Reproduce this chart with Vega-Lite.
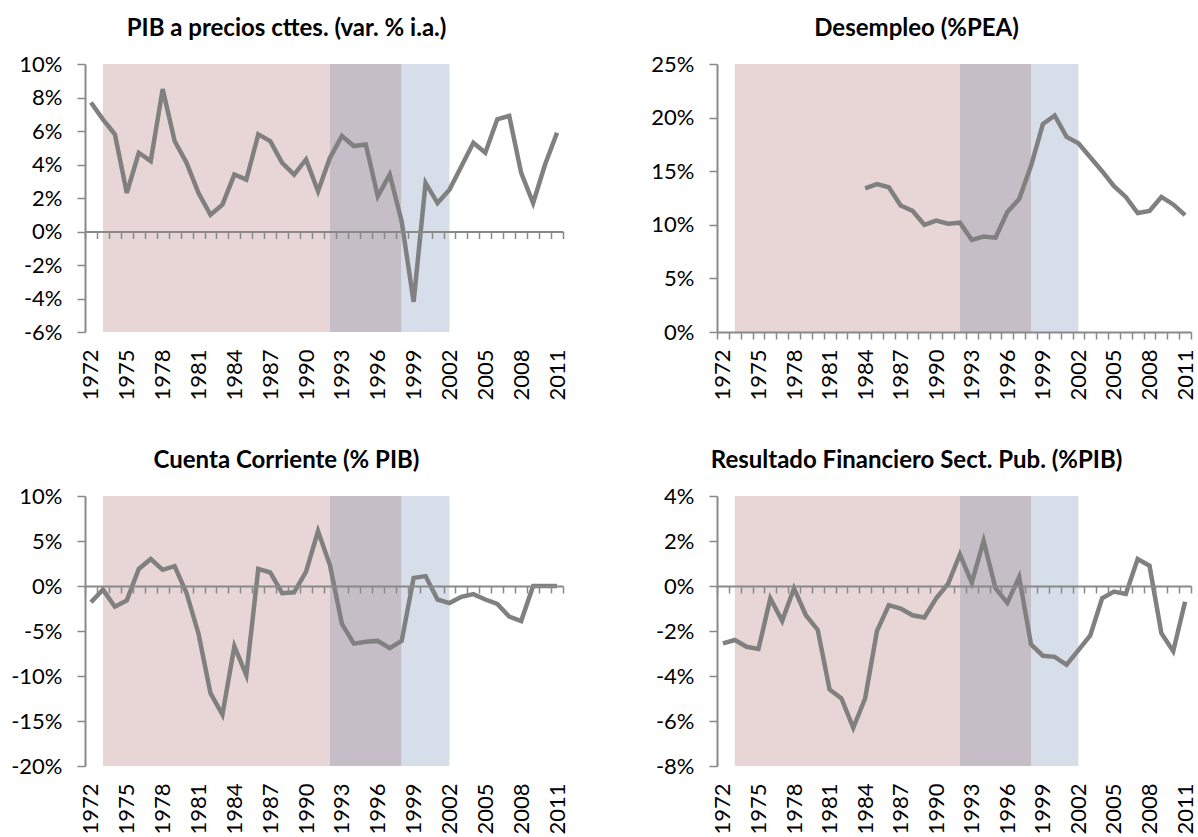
{
  "$schema": "https://vega.github.io/schema/vega-lite/v6.json",
  "padding": {"left": 5, "top": 17, "right": 0, "bottom": 0},
  "background": "white",
  "datasets": {
    "bands": [
      {"start": 1973, "end": 1992, "period": "a"},
      {"start": 1992, "end": 1998, "period": "b"},
      {"start": 1998, "end": 2002, "period": "c"}
    ],
    "pib": [
      {"year": 1972, "value": 7.7}, {"year": 1973, "value": 6.7}, {"year": 1974, "value": 5.8}, {"year": 1975, "value": 2.3},
      {"year": 1976, "value": 4.7}, {"year": 1977, "value": 4.2}, {"year": 1978, "value": 8.5}, {"year": 1979, "value": 5.4},
      {"year": 1980, "value": 4.1}, {"year": 1981, "value": 2.3}, {"year": 1982, "value": 1.0}, {"year": 1983, "value": 1.6},
      {"year": 1984, "value": 3.4}, {"year": 1985, "value": 3.1}, {"year": 1986, "value": 5.8}, {"year": 1987, "value": 5.4},
      {"year": 1988, "value": 4.1}, {"year": 1989, "value": 3.4}, {"year": 1990, "value": 4.3}, {"year": 1991, "value": 2.4},
      {"year": 1992, "value": 4.4}, {"year": 1993, "value": 5.7}, {"year": 1994, "value": 5.1}, {"year": 1995, "value": 5.2},
      {"year": 1996, "value": 2.1}, {"year": 1997, "value": 3.4}, {"year": 1998, "value": 0.6}, {"year": 1999, "value": -4.2},
      {"year": 2000, "value": 2.9}, {"year": 2001, "value": 1.7}, {"year": 2002, "value": 2.5}, {"year": 2003, "value": 3.9},
      {"year": 2004, "value": 5.3}, {"year": 2005, "value": 4.7}, {"year": 2006, "value": 6.7}, {"year": 2007, "value": 6.9},
      {"year": 2008, "value": 3.5}, {"year": 2009, "value": 1.7}, {"year": 2010, "value": 4.0}, {"year": 2011, "value": 5.9}
    ],
    "desempleo": [
      {"year": 1984, "value": 13.4}, {"year": 1985, "value": 13.8}, {"year": 1986, "value": 13.5}, {"year": 1987, "value": 11.8},
      {"year": 1988, "value": 11.3}, {"year": 1989, "value": 10.0}, {"year": 1990, "value": 10.4}, {"year": 1991, "value": 10.1},
      {"year": 1992, "value": 10.2}, {"year": 1993, "value": 8.6}, {"year": 1994, "value": 8.9}, {"year": 1995, "value": 8.8},
      {"year": 1996, "value": 11.2}, {"year": 1997, "value": 12.4}, {"year": 1998, "value": 15.5}, {"year": 1999, "value": 19.4},
      {"year": 2000, "value": 20.2}, {"year": 2001, "value": 18.2}, {"year": 2002, "value": 17.6}, {"year": 2003, "value": 16.3},
      {"year": 2004, "value": 15.0}, {"year": 2005, "value": 13.6}, {"year": 2006, "value": 12.6}, {"year": 2007, "value": 11.1},
      {"year": 2008, "value": 11.3}, {"year": 2009, "value": 12.6}, {"year": 2010, "value": 11.9}, {"year": 2011, "value": 10.9}
    ],
    "cc": [
      {"year": 1972, "value": -1.8}, {"year": 1973, "value": -0.4}, {"year": 1974, "value": -2.3}, {"year": 1975, "value": -1.6},
      {"year": 1976, "value": 1.9}, {"year": 1977, "value": 3.0}, {"year": 1978, "value": 1.8}, {"year": 1979, "value": 2.2},
      {"year": 1980, "value": -0.8}, {"year": 1981, "value": -5.3}, {"year": 1982, "value": -11.9}, {"year": 1983, "value": -14.3},
      {"year": 1984, "value": -6.7}, {"year": 1985, "value": -9.9}, {"year": 1986, "value": 1.9}, {"year": 1987, "value": 1.5},
      {"year": 1988, "value": -0.8}, {"year": 1989, "value": -0.7}, {"year": 1990, "value": 1.6}, {"year": 1991, "value": 6.1},
      {"year": 1992, "value": 2.3}, {"year": 1993, "value": -4.2}, {"year": 1994, "value": -6.4}, {"year": 1995, "value": -6.2},
      {"year": 1996, "value": -6.1}, {"year": 1997, "value": -6.9}, {"year": 1998, "value": -6.1}, {"year": 1999, "value": 0.9},
      {"year": 2000, "value": 1.1}, {"year": 2001, "value": -1.5}, {"year": 2002, "value": -1.9}, {"year": 2003, "value": -1.2},
      {"year": 2004, "value": -0.9}, {"year": 2005, "value": -1.5}, {"year": 2006, "value": -2.0}, {"year": 2007, "value": -3.4},
      {"year": 2008, "value": -3.9}, {"year": 2009, "value": 0}, {"year": 2010, "value": 0}, {"year": 2011, "value": 0}
    ],
    "fiscal": [
      {"year": 1972, "value": -2.55}, {"year": 1973, "value": -2.4}, {"year": 1974, "value": -2.7}, {"year": 1975, "value": -2.8},
      {"year": 1976, "value": -0.55}, {"year": 1977, "value": -1.55}, {"year": 1978, "value": -0.1}, {"year": 1979, "value": -1.3},
      {"year": 1980, "value": -1.95}, {"year": 1981, "value": -4.6}, {"year": 1982, "value": -5.0}, {"year": 1983, "value": -6.3},
      {"year": 1984, "value": -5.0}, {"year": 1985, "value": -2.0}, {"year": 1986, "value": -0.85}, {"year": 1987, "value": -1.0},
      {"year": 1988, "value": -1.3}, {"year": 1989, "value": -1.4}, {"year": 1990, "value": -0.55}, {"year": 1991, "value": 0.1},
      {"year": 1992, "value": 1.4}, {"year": 1993, "value": 0.15}, {"year": 1994, "value": 2.0}, {"year": 1995, "value": -0.1},
      {"year": 1996, "value": -0.75}, {"year": 1997, "value": 0.4}, {"year": 1998, "value": -2.6}, {"year": 1999, "value": -3.1},
      {"year": 2000, "value": -3.15}, {"year": 2001, "value": -3.5}, {"year": 2002, "value": -2.85}, {"year": 2003, "value": -2.2},
      {"year": 2004, "value": -0.55}, {"year": 2005, "value": -0.25}, {"year": 2006, "value": -0.35}, {"year": 2007, "value": 1.2},
      {"year": 2008, "value": 0.9}, {"year": 2009, "value": -2.1}, {"year": 2010, "value": -2.9}, {"year": 2011, "value": -0.7}
    ]
  },
  "vconcat": [
    {
      "hconcat": [
        {
          "width": 478, "height": 268,
          "title": {"text": "PIB a precios cttes. (var. % i.a.)"},
          "layer": [
            {
              "data": {"name": "bands"},
              "mark": {"type": "rect"},
              "encoding": {
                "x": {"field": "start", "type": "quantitative", "scale": {"domain": [1971.5, 2011.5], "nice": false, "zero": false},
                  "axis": {"orient": "bottom", "values": [1972, 1975, 1978, 1981, 1984, 1987, 1990, 1993, 1996, 1999, 2002, 2005, 2008, 2011], "format": "d", "labelAngle": -90, "ticks": false, "domain": false, "grid": false, "labelPadding": 17, "labelFlush": false, "labelBound": false, "labelOverlap": false, "minExtent": 80, "maxExtent": 80, "title": null}},
                "x2": {"field": "end"},
                "color": {"field": "period", "type": "nominal", "scale": {"domain": ["a", "b", "c"], "range": ["#E8D6D6", "#C5BEC6", "#D6DFE9"]}, "legend": null}
              }
            },
            {
              "data": {"name": "pib"},
              "mark": {"type": "line", "color": "#808080", "strokeWidth": 4.5},
              "encoding": {
                "x": {"field": "year", "type": "quantitative",
                  "axis": {"orient": "bottom", "offset": -100.5, "values": [1971.5,1972.5,1973.5,1974.5,1975.5,1976.5,1977.5,1978.5,1979.5,1980.5,1981.5,1982.5,1983.5,1984.5,1985.5,1986.5,1987.5,1988.5,1989.5,1990.5,1991.5,1992.5,1993.5,1994.5,1995.5,1996.5,1997.5,1998.5,1999.5,2000.5,2001.5,2002.5,2003.5,2004.5,2005.5,2006.5,2007.5,2008.5,2009.5,2010.5,2011.5], "labels": false, "tickSize": 7, "grid": false, "zindex": 1, "minExtent": 0, "maxExtent": 0, "title": null}},
                "y": {"field": "value", "type": "quantitative", "scale": {"domain": [-6, 10], "nice": false},
                  "axis": {"values": [-6, -4, -2, 0, 2, 4, 6, 8, 10], "labelExpr": "datum.value + '%'", "title": null}}
              }
            }
          ],
          "resolve": {"axis": {"x": "independent"}}
        },
        {
          "width": 474, "height": 268,
          "title": {"text": "Desempleo (%PEA)"},
          "layer": [
            {
              "data": {"name": "bands"},
              "mark": {"type": "rect"},
              "encoding": {
                "x": {"field": "start", "type": "quantitative", "scale": {"domain": [1971.5, 2011.5], "nice": false, "zero": false},
                  "axis": {"orient": "bottom", "values": [1972, 1975, 1978, 1981, 1984, 1987, 1990, 1993, 1996, 1999, 2002, 2005, 2008, 2011], "format": "d", "labelAngle": -90, "ticks": false, "domain": false, "grid": false, "labelPadding": 17, "labelFlush": false, "labelBound": false, "labelOverlap": false, "minExtent": 80, "maxExtent": 80, "title": null}},
                "x2": {"field": "end"},
                "color": {"field": "period", "type": "nominal", "scale": {"domain": ["a", "b", "c"], "range": ["#E8D6D6", "#C5BEC6", "#D6DFE9"]}, "legend": null}
              }
            },
            {
              "data": {"name": "desempleo"},
              "mark": {"type": "line", "color": "#808080", "strokeWidth": 4.5},
              "encoding": {
                "x": {"field": "year", "type": "quantitative",
                  "axis": {"orient": "bottom", "offset": 0, "values": [1971.5,1972.5,1973.5,1974.5,1975.5,1976.5,1977.5,1978.5,1979.5,1980.5,1981.5,1982.5,1983.5,1984.5,1985.5,1986.5,1987.5,1988.5,1989.5,1990.5,1991.5,1992.5,1993.5,1994.5,1995.5,1996.5,1997.5,1998.5,1999.5,2000.5,2001.5,2002.5,2003.5,2004.5,2005.5,2006.5,2007.5,2008.5,2009.5,2010.5,2011.5], "labels": false, "tickSize": 7, "grid": false, "zindex": 1, "minExtent": 0, "maxExtent": 0, "title": null}},
                "y": {"field": "value", "type": "quantitative", "scale": {"domain": [0, 25], "nice": false},
                  "axis": {"values": [0, 5, 10, 15, 20, 25], "labelExpr": "datum.value + '%'", "title": null}}
              }
            }
          ],
          "resolve": {"axis": {"x": "independent"}}
        }
      ],
      "spacing": 68
    },
    {
      "hconcat": [
        {
          "width": 478, "height": 270,
          "title": {"text": "Cuenta Corriente (% PIB)"},
          "layer": [
            {
              "data": {"name": "bands"},
              "mark": {"type": "rect"},
              "encoding": {
                "x": {"field": "start", "type": "quantitative", "scale": {"domain": [1971.5, 2011.5], "nice": false, "zero": false},
                  "axis": {"orient": "bottom", "values": [1972, 1975, 1978, 1981, 1984, 1987, 1990, 1993, 1996, 1999, 2002, 2005, 2008, 2011], "format": "d", "labelAngle": -90, "ticks": false, "domain": false, "grid": false, "labelPadding": 17, "labelFlush": false, "labelBound": false, "labelOverlap": false, "minExtent": 80, "maxExtent": 80, "title": null}},
                "x2": {"field": "end"},
                "color": {"field": "period", "type": "nominal", "scale": {"domain": ["a", "b", "c"], "range": ["#E8D6D6", "#C5BEC6", "#D6DFE9"]}, "legend": null}
              }
            },
            {
              "data": {"name": "cc"},
              "mark": {"type": "line", "color": "#808080", "strokeWidth": 4.5},
              "encoding": {
                "x": {"field": "year", "type": "quantitative",
                  "axis": {"orient": "bottom", "offset": -180, "values": [1971.5,1972.5,1973.5,1974.5,1975.5,1976.5,1977.5,1978.5,1979.5,1980.5,1981.5,1982.5,1983.5,1984.5,1985.5,1986.5,1987.5,1988.5,1989.5,1990.5,1991.5,1992.5,1993.5,1994.5,1995.5,1996.5,1997.5,1998.5,1999.5,2000.5,2001.5,2002.5,2003.5,2004.5,2005.5,2006.5,2007.5,2008.5,2009.5,2010.5,2011.5], "labels": false, "tickSize": 7, "grid": false, "zindex": 1, "minExtent": 0, "maxExtent": 0, "title": null}},
                "y": {"field": "value", "type": "quantitative", "scale": {"domain": [-20, 10], "nice": false},
                  "axis": {"values": [-20, -15, -10, -5, 0, 5, 10], "labelExpr": "datum.value + '%'", "title": null}}
              }
            }
          ],
          "resolve": {"axis": {"x": "independent"}}
        },
        {
          "width": 474, "height": 270,
          "title": {"text": "Resultado Financiero Sect. Pub. (%PIB)"},
          "layer": [
            {
              "data": {"name": "bands"},
              "mark": {"type": "rect"},
              "encoding": {
                "x": {"field": "start", "type": "quantitative", "scale": {"domain": [1971.5, 2011.5], "nice": false, "zero": false},
                  "axis": {"orient": "bottom", "values": [1972, 1975, 1978, 1981, 1984, 1987, 1990, 1993, 1996, 1999, 2002, 2005, 2008, 2011], "format": "d", "labelAngle": -90, "ticks": false, "domain": false, "grid": false, "labelPadding": 17, "labelFlush": false, "labelBound": false, "labelOverlap": false, "minExtent": 80, "maxExtent": 80, "title": null}},
                "x2": {"field": "end"},
                "color": {"field": "period", "type": "nominal", "scale": {"domain": ["a", "b", "c"], "range": ["#E8D6D6", "#C5BEC6", "#D6DFE9"]}, "legend": null}
              }
            },
            {
              "data": {"name": "fiscal"},
              "mark": {"type": "line", "color": "#808080", "strokeWidth": 4.5},
              "encoding": {
                "x": {"field": "year", "type": "quantitative",
                  "axis": {"orient": "bottom", "offset": -180, "values": [1971.5,1972.5,1973.5,1974.5,1975.5,1976.5,1977.5,1978.5,1979.5,1980.5,1981.5,1982.5,1983.5,1984.5,1985.5,1986.5,1987.5,1988.5,1989.5,1990.5,1991.5,1992.5,1993.5,1994.5,1995.5,1996.5,1997.5,1998.5,1999.5,2000.5,2001.5,2002.5,2003.5,2004.5,2005.5,2006.5,2007.5,2008.5,2009.5,2010.5,2011.5], "labels": false, "tickSize": 7, "grid": false, "zindex": 1, "minExtent": 0, "maxExtent": 0, "title": null}},
                "y": {"field": "value", "type": "quantitative", "scale": {"domain": [-8, 4], "nice": false},
                  "axis": {"values": [-8, -6, -4, -2, 0, 2, 4], "labelExpr": "datum.value + '%'", "title": null}}
              }
            }
          ],
          "resolve": {"axis": {"x": "independent"}}
        }
      ],
      "spacing": 68
    }
  ],
  "spacing": 37,
  "config": {
    "view": {"stroke": null},
    "font": "Lato",
    "title": {"font": "Lato", "fontSize": 24, "fontWeight": "bold", "color": "black", "anchor": "middle", "frame": "bounds", "offset": 12},
    "axis": {
      "domainColor": "#898989", "domainWidth": 2, "tickColor": "#898989", "tickWidth": 1.5, "tickSize": 8,
      "labelFont": "Lato", "labelFontSize": 22, "labelColor": "black", "labelPadding": 15, "grid": false
    },
    "axisY": {"minExtent": 80, "maxExtent": 80},
    "axisX": {"labelFontSize": 22}
  }
}
